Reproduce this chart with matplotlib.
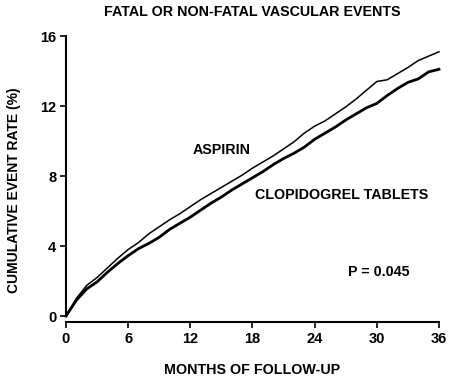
import matplotlib
matplotlib.use('Agg')
import matplotlib.pyplot as plt

plt.rcParams['font.family'] = ['Liberation Sans', 'DejaVu Sans']
plt.rcParams['font.weight'] = 'bold'

months = list(range(0, 37))
aspirin = [0, 1.0, 1.75, 2.2, 2.75, 3.3, 3.8, 4.2, 4.7, 5.1, 5.5, 5.85, 6.25,
           6.65, 7.0, 7.35, 7.7, 8.05, 8.45, 8.8, 9.15, 9.55, 9.95, 10.45,
           10.85, 11.15, 11.55, 11.95, 12.4, 12.9, 13.4, 13.5, 13.85, 14.2,
           14.6, 14.85, 15.1]
clopidogrel = [0, 0.9, 1.55, 1.95, 2.5, 3.0, 3.45, 3.85, 4.15, 4.5, 4.95, 5.3,
               5.65, 6.05, 6.45, 6.8, 7.2, 7.55, 7.9, 8.25, 8.65, 9.0, 9.3,
               9.65, 10.1, 10.45, 10.8, 11.2, 11.55, 11.9, 12.15, 12.6, 13.0,
               13.35, 13.55, 13.95, 14.1]
xticks = [0, 6, 12, 18, 24, 30, 36]
yticks = [0, 4, 8, 12, 16]

fig = plt.figure(figsize=(4.57, 3.86), dpi=100)
ax = fig.add_axes([0.1444, 0.1813, 0.8162, 0.7254])

ax.plot(months, aspirin, color='black', lw=1.1, clip_on=False)
ax.plot(months, clopidogrel, color='black', lw=2.0, clip_on=False)

ax.set_xlim(0, 36)
ax.set_ylim(0, 16)
ax.set_xticks(xticks)
ax.set_yticks(yticks)
ax.tick_params(labelsize=10.5, width=1.2, length=4, direction='out', pad=3)
for lab in ax.get_xticklabels() + ax.get_yticklabels():
    lab.set_fontweight('bold')

ax.spines['top'].set_visible(False)
ax.spines['right'].set_visible(False)
ax.spines['bottom'].set_position(('outward', 4.5))
ax.spines['left'].set_linewidth(1.5)
ax.spines['bottom'].set_linewidth(1.5)

ax.set_xlabel('MONTHS OF FOLLOW-UP', fontsize=10.3, fontweight='bold', labelpad=12)
ax.set_ylabel('CUMULATIVE EVENT RATE (%)', fontsize=10, fontweight='bold')
ax.yaxis.set_label_coords(-0.12, 0.45)
fig.text(0.552, 0.968, 'FATAL OR NON-FATAL VASCULAR EVENTS', ha='center', va='center',
         fontsize=10.3, fontweight='bold')

ax.text(15.0, 9.5, 'ASPIRIN', ha='center', va='center', fontsize=10.3, fontweight='bold')
ax.text(26.6, 6.9, 'CLOPIDOGREL TABLETS', ha='center', va='center', fontsize=10.3, fontweight='bold')
ax.text(30.2, 2.5, 'P = 0.045', ha='center', va='center', fontsize=10.3, fontweight='bold')

fig.savefig('out.png', dpi=100)
